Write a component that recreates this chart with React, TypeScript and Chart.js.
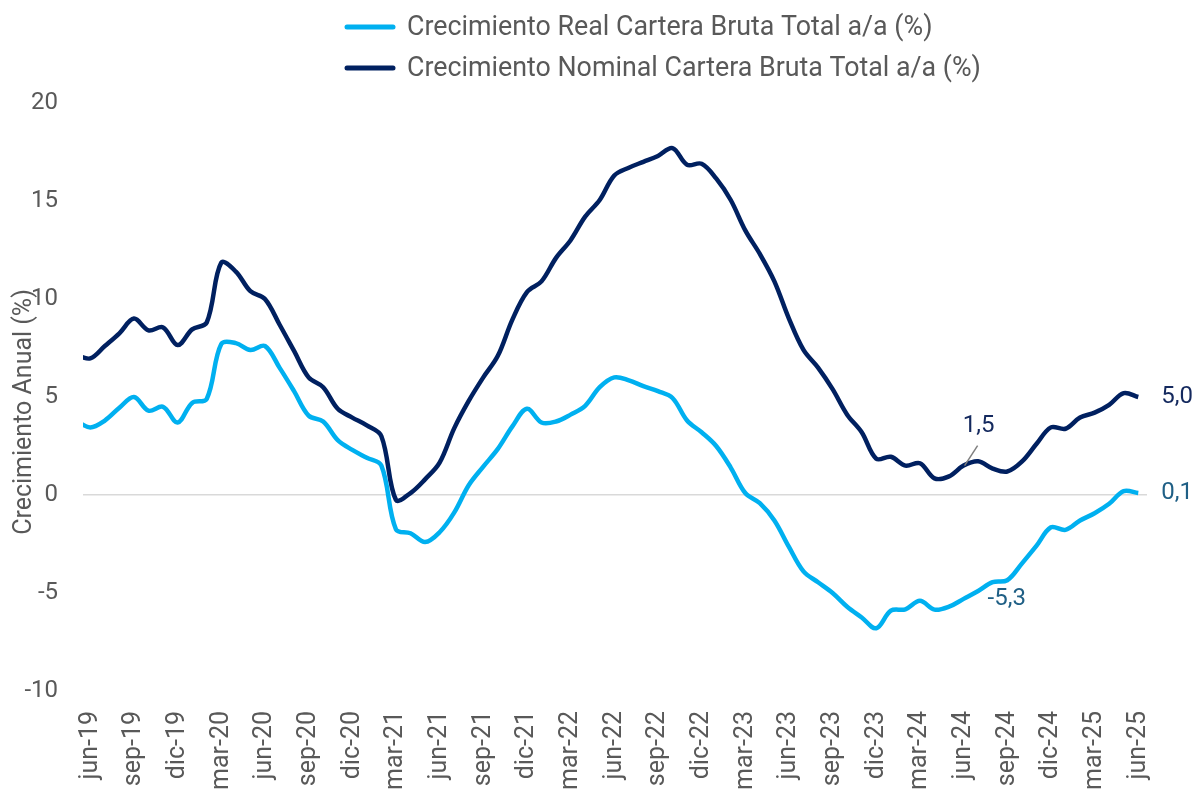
import React, { useEffect, useRef } from 'react';
import { Chart, registerables } from 'chart.js';

Chart.register(...registerables);

const categories = [
  'may-19', 'jun-19', 'jul-19', 'ago-19', 'sep-19', 'oct-19', 'nov-19', 'dic-19',
  'ene-20', 'feb-20', 'mar-20', 'abr-20', 'may-20', 'jun-20', 'jul-20', 'ago-20', 'sep-20', 'oct-20', 'nov-20', 'dic-20',
  'ene-21', 'feb-21', 'mar-21', 'abr-21', 'may-21', 'jun-21', 'jul-21', 'ago-21', 'sep-21', 'oct-21', 'nov-21', 'dic-21',
  'ene-22', 'feb-22', 'mar-22', 'abr-22', 'may-22', 'jun-22', 'jul-22', 'ago-22', 'sep-22', 'oct-22', 'nov-22', 'dic-22',
  'ene-23', 'feb-23', 'mar-23', 'abr-23', 'may-23', 'jun-23', 'jul-23', 'ago-23', 'sep-23', 'oct-23', 'nov-23', 'dic-23',
  'ene-24', 'feb-24', 'mar-24', 'abr-24', 'may-24', 'jun-24', 'jul-24', 'ago-24', 'sep-24', 'oct-24', 'nov-24', 'dic-24',
  'ene-25', 'feb-25', 'mar-25', 'abr-25', 'may-25', 'jun-25',
];

const tickLabels = [
  'jun-19', 'sep-19', 'dic-19', 'mar-20', 'jun-20', 'sep-20', 'dic-20', 'mar-21', 'jun-21',
  'sep-21', 'dic-21', 'mar-22', 'jun-22', 'sep-22', 'dic-22', 'mar-23', 'jun-23', 'sep-23',
  'dic-23', 'mar-24', 'jun-24', 'sep-24', 'dic-24', 'mar-25', 'jun-25',
];

const seriesRealLabel = 'Crecimiento Real Cartera Bruta Total a/a (%)';
const seriesNominalLabel = 'Crecimiento Nominal Cartera Bruta Total a/a (%)';
const yAxisTitle = 'Crecimiento Anual (%)';

const realGrowth = [
  3.8, 3.45, 3.8, 4.45, 5.0, 4.3, 4.5, 3.7,
  4.7, 4.9, 7.7, 7.75, 7.4, 7.6, 6.5, 5.3, 4.05, 3.75, 2.8, 2.3,
  1.9, 1.5, -1.75, -1.95, -2.4, -1.9, -0.9, 0.5, 1.45, 2.35, 3.5, 4.4,
  3.7, 3.75, 4.1, 4.55, 5.5, 6.0, 5.85, 5.55, 5.3, 4.95, 3.8, 3.2,
  2.5, 1.4, 0.1, -0.42, -1.3, -2.65, -3.9, -4.45, -5.0, -5.7, -6.25, -6.8,
  -5.9, -5.83, -5.4, -5.85, -5.7, -5.3, -4.9, -4.45, -4.35, -3.5, -2.6, -1.65,
  -1.78, -1.3, -0.93, -0.45, 0.2, 0.1,
];

const nominalGrowth = [
  7.15, 6.97, 7.6, 8.25, 9.0, 8.4, 8.55, 7.65,
  8.45, 8.8, 11.85, 11.4, 10.4, 10.0, 8.7, 7.35, 6.0, 5.5, 4.4, 3.95,
  3.55, 3.0, -0.25, 0.1, 0.8, 1.65, 3.4, 4.8, 6.0, 7.1, 8.95, 10.35,
  10.9, 12.1, 13.0, 14.2, 15.05, 16.3, 16.7, 17.0, 17.3, 17.7, 16.85, 16.9,
  16.15, 15.05, 13.5, 12.3, 10.9, 9.0, 7.4, 6.5, 5.4, 4.1, 3.2, 1.85,
  1.95, 1.5, 1.62, 0.85, 0.95, 1.5, 1.72, 1.35, 1.2, 1.7, 2.6, 3.45,
  3.38, 3.95, 4.2, 4.6, 5.2, 5.0,
];

const annotations = [
  { series: 'nominal', category: 'jun-25', text: '5,0', color: '#14295E', dx: 23, dy: 0, align: 'left', leader: false },
  { series: 'real', category: 'jun-25', text: '0,1', color: '#1F5F85', dx: 23, dy: 0, align: 'left', leader: false },
  { series: 'nominal', category: 'jun-24', text: '1,5', color: '#14295E', dx: 15, dy: -40, align: 'center', leader: true },
  { series: 'real', category: 'jun-24', text: '-5,3', color: '#1F5F85', dx: 24, dy: 0, align: 'left', leader: false },
];

const REAL_COLOR = '#00B0F0';
const NOMINAL_COLOR = '#002060';
const TEXT_COLOR = '#595959';
const FONT = 'Roboto';

const decorPlugin = {
  id: 'decor',
  afterDraw(chart: any) {
    const ctx = chart.ctx;
    const xs = chart.scales.x;
    const ys = chart.scales.y;
    ctx.save();
    // legend
    const legendItems = [
      { text: seriesRealLabel, color: REAL_COLOR, y: 27 },
      { text: seriesNominalLabel, color: NOMINAL_COLOR, y: 68 },
    ];
    ctx.font = `26.8px ${FONT}`;
    ctx.textBaseline = 'middle';
    ctx.textAlign = 'left';
    legendItems.forEach((it) => {
      ctx.strokeStyle = it.color;
      ctx.lineWidth = 5;
      ctx.lineCap = 'round';
      ctx.beginPath();
      ctx.moveTo(347, it.y);
      ctx.lineTo(393, it.y);
      ctx.stroke();
      ctx.fillStyle = TEXT_COLOR;
      ctx.fillText(it.text, 407, it.y + 1);
    });
    // y axis title
    ctx.save();
    ctx.font = `25px ${FONT}`;
    ctx.translate(25, 412);
    ctx.rotate(-Math.PI / 2);
    ctx.textAlign = 'center';
    ctx.fillStyle = TEXT_COLOR;
    ctx.fillText(yAxisTitle, 0, 0);
    ctx.restore();
    // annotations
    ctx.font = `24px ${FONT}`;
    annotations.forEach((a) => {
      const idx = categories.indexOf(a.category);
      const v = a.series === 'real' ? realGrowth[idx] : nominalGrowth[idx];
      const px = xs.getPixelForValue(idx);
      const py = ys.getPixelForValue(v);
      if (a.leader) {
        ctx.strokeStyle = '#7F7F7F';
        ctx.lineWidth = 1.5;
        ctx.lineCap = 'butt';
        ctx.beginPath();
        ctx.moveTo(px + 1, py);
        ctx.lineTo(px + 14, py - 20);
        ctx.stroke();
      }
      ctx.fillStyle = a.color;
      ctx.textAlign = a.align as CanvasTextAlign;
      ctx.textBaseline = 'middle';
      ctx.fillText(a.text, px + a.dx, py + a.dy);
    });
    ctx.restore();
  },
};

export default function App() {
  const ref = useRef<HTMLCanvasElement>(null);
  useEffect(() => {
    if (!ref.current) return;
    const chart = new Chart(ref.current, {
      type: 'line',
      data: {
        datasets: [
          {
            label: seriesRealLabel,
            data: realGrowth.map((v, i) => ({ x: i, y: v })),
            borderColor: REAL_COLOR,
            backgroundColor: REAL_COLOR,
            borderWidth: 4.5,
            pointRadius: 0,
            tension: 0.35,
          },
          {
            label: seriesNominalLabel,
            data: nominalGrowth.map((v, i) => ({ x: i, y: v })),
            borderColor: NOMINAL_COLOR,
            backgroundColor: NOMINAL_COLOR,
            borderWidth: 4.5,
            pointRadius: 0,
            tension: 0.35,
          },
        ],
      },
      options: {
        animation: false,
        responsive: false,
        devicePixelRatio: 1,
        layout: { padding: { top: 103, left: 0, right: 54, bottom: 0 } },
        plugins: { legend: { display: false }, tooltip: { enabled: false } },
        scales: {
          x: {
            type: 'linear',
            min: 0.5,
            max: 73.6,
            afterBuildTicks: (s: any) => {
              s.ticks = tickLabels.map((l) => ({ value: categories.indexOf(l) }));
            },
            afterFit: (s: any) => {
              s.height = 102;
            },
            ticks: {
              autoSkip: false,
              minRotation: 90,
              maxRotation: 90,
              padding: 20,
              color: TEXT_COLOR,
              font: { family: FONT, size: 25 },
              callback: (v: any) => categories[v as number] ?? '',
            },
            grid: { display: false, drawTicks: false },
            border: { display: false },
          },
          y: {
            min: -10,
            max: 20,
            afterFit: (s: any) => {
              s.width = 83;
            },
            ticks: {
              stepSize: 5,
              padding: 25,
              color: TEXT_COLOR,
              font: { family: FONT, size: 24 },
            },
            grid: {
              drawTicks: false,
              lineWidth: 1.5,
              color: (c: any) => (c.tick && c.tick.value === 0 ? '#D9D9D9' : 'rgba(0,0,0,0)'),
            },
            border: { display: false },
          },
        },
      },
      plugins: [decorPlugin],
    } as any);
    return () => chart.destroy();
  }, []);
  return (
    <div style={{ position: 'fixed', left: 0, top: 0, width: 1201, height: 793, background: '#fff' }}>
      <canvas ref={ref} width={1201} height={793} style={{ width: 1201, height: 793 }} />
    </div>
  );
}
